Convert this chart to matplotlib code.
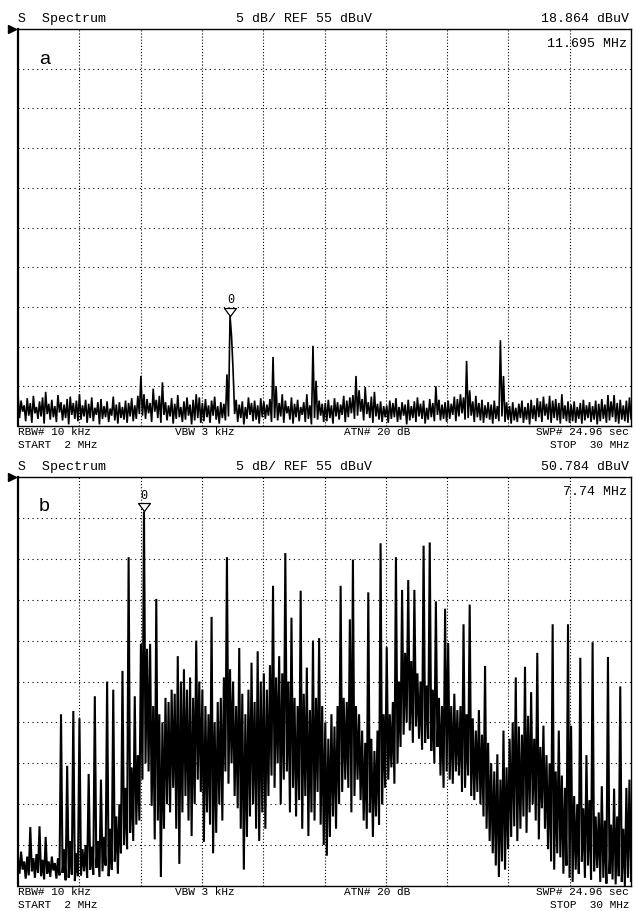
import numpy as np
import matplotlib
matplotlib.use("Agg")
import matplotlib.pyplot as plt
from matplotlib import transforms

# ---------------- instrument settings ----------------
F_START, F_STOP = 2.0, 30.0          # MHz
REF_LEVEL, DB_PER_DIV, N_DIV = 55.0, 5.0, 10

# ---------------- panel a trace (dBuV), peak / pit per column ----------------
hi_a = [9.0, 8.2, 7.6, 8.5, 7.9, 8.8, 7.4, 8.1, 8.6, 9.3, 7.8, 8.3, 7.5, 8.9, 8.0, 7.7, 8.4, 8.7, 7.9, 8.2,
        9.0, 7.6, 8.3, 7.8, 8.6, 7.3, 8.0, 8.4, 7.5, 8.1, 7.2, 8.7, 7.7, 8.0, 7.4, 8.2, 7.9, 8.5, 7.6, 8.8,
        11.3, 9.0, 8.4, 7.9, 9.7, 8.3, 8.8, 10.5, 8.0, 7.6, 8.5, 7.8, 8.9, 7.4, 8.1, 8.6, 7.7, 8.3, 9.0, 8.6,
        7.9, 8.4, 7.6, 8.2, 8.7, 7.5, 8.0, 7.8, 11.5, 18.864, 12.0, 8.3, 7.7, 8.1, 7.4, 8.6, 7.9, 8.2, 7.6, 8.5,
        8.1, 7.7, 8.4, 13.7, 10.0, 7.9, 9.0, 8.2, 7.5, 8.6, 7.8, 8.3, 7.4, 8.0, 9.0, 7.6, 15.1, 10.7, 8.2, 7.8,
        7.9, 8.3, 7.6, 8.5, 8.0, 7.7, 8.8, 8.2, 8.6, 8.9, 11.3, 9.5, 8.4, 9.9, 8.0, 8.7, 9.3, 7.8, 8.1, 7.5,
        7.6, 8.2, 7.9, 8.5, 7.4, 8.0, 7.7, 8.3, 7.5, 8.1, 8.6, 7.8, 8.2, 7.3, 8.4, 7.9, 10.0, 8.3, 7.7, 8.0,
        8.2, 7.8, 8.7, 8.4, 9.0, 8.6, 13.2, 9.5, 8.1, 8.8, 7.9, 8.3, 7.6, 8.0, 7.7, 8.2, 7.5, 15.8, 11.3, 8.0,
        7.5, 8.0, 7.3, 7.8, 8.2, 7.4, 7.9, 8.3, 7.6, 8.5, 8.1, 8.7, 7.8, 8.8, 8.2, 8.4, 7.9, 9.0, 7.6, 8.1,
        7.7, 8.1, 7.4, 7.9, 8.3, 7.6, 8.0, 7.5, 8.2, 7.8, 8.4, 7.7, 8.9, 8.1, 8.9, 7.9, 8.3, 7.6, 8.2, 8.6]
lo_a = [6.0, 6.8, 5.6, 6.3, 5.4, 6.6, 5.9, 6.2, 5.3, 6.5, 5.8, 6.1, 5.5, 6.7, 5.7, 6.0, 5.2, 6.4, 5.9, 5.6,
        5.8, 6.2, 5.4, 6.0, 5.6, 6.4, 5.2, 5.9, 6.1, 5.5, 6.3, 5.7, 5.3, 6.0, 5.8, 5.4, 6.2, 5.6, 5.9, 6.5,
        6.3, 5.9, 6.6, 5.5, 6.8, 6.0, 5.4, 6.4, 5.7, 6.2, 5.3, 5.9, 6.1, 5.5, 5.8, 6.3, 5.2, 5.7, 6.0, 5.4,
        5.6, 6.1, 5.4, 6.3, 5.8, 5.3, 6.0, 5.7, 6.2, 16.3, 6.5, 5.5, 6.0, 5.2, 5.9, 6.4, 5.6, 5.8, 5.3, 6.1,
        5.9, 6.3, 5.5, 6.0, 5.7, 6.2, 5.4, 6.6, 5.8, 5.3, 6.1, 5.6, 6.4, 5.5, 5.9, 5.2, 6.0, 5.8, 6.3, 5.5,
        5.6, 6.0, 5.3, 6.2, 5.8, 6.4, 5.5, 6.1, 6.6, 5.9, 6.3, 6.8, 5.7, 6.5, 6.0, 5.4, 6.2, 5.8, 5.5, 6.1,
        5.4, 5.9, 6.1, 5.5, 5.8, 6.3, 5.2, 5.7, 6.0, 5.5, 6.2, 5.9, 5.3, 5.8, 6.1, 5.6, 6.4, 5.7, 5.9, 5.5,
        5.9, 6.4, 5.6, 6.2, 6.6, 5.8, 6.0, 6.3, 5.5, 6.1, 5.7, 5.4, 6.0, 5.8, 5.3, 5.9, 5.6, 6.2, 5.5, 5.8,
        5.3, 5.7, 5.5, 6.0, 5.4, 5.8, 5.2, 5.9, 5.6, 6.1, 5.5, 6.3, 5.8, 5.4, 6.0, 5.7, 5.3, 5.9, 5.6, 5.4,
        5.6, 5.4, 5.9, 5.3, 5.7, 6.0, 5.5, 5.8, 5.2, 5.6, 5.9, 5.4, 5.7, 6.1, 5.5, 5.3, 5.8, 5.6, 5.4, 5.9]
marker_a = (11.695, 18.864)

# ---------------- panel b trace (dBuV), peak / pit per column ----------------
hi_b = [8.5, 9.2, 8.0, 8.6, 12.2, 8.4, 8.9, 12.3, 8.2, 11.0, 8.0, 8.6, 7.8, 8.4, 26.0, 9.5, 19.7, 10.5, 26.4, 9.0,
        25.5, 9.5, 10.0, 18.7, 9.8, 28.2, 10.5, 18.0, 11.0, 30.0, 12.0, 29.0, 13.5, 15.0, 31.3, 17.0, 45.2, 19.5, 28.2, 21.0,
        34.6, 50.784, 34.0, 34.6, 27.0, 40.1, 26.0, 25.0, 28.0, 27.5, 29.0, 28.5, 33.1, 30.0, 31.5, 29.0, 30.5, 28.0, 35.0, 30.0,
        29.0, 27.0, 26.0, 37.9, 25.0, 27.5, 28.0, 30.5, 45.2, 31.5, 30.0, 27.0, 34.1, 28.5, 26.0, 29.0, 32.3, 27.5, 33.7, 30.0,
        31.0, 29.0, 32.0, 41.7, 30.5, 33.1, 31.0, 45.7, 30.0, 37.8, 28.0, 27.0, 41.1, 28.5, 31.7, 26.5, 35.0, 28.0, 35.3, 27.0,
        25.0, 23.0, 26.0, 24.5, 27.0, 41.7, 28.0, 27.5, 37.6, 44.9, 27.0, 26.0, 24.0, 22.5, 40.9, 23.0, 21.5, 24.0, 46.9, 26.0,
        34.2, 26.0, 27.5, 45.2, 30.0, 41.2, 33.5, 42.4, 32.5, 41.2, 31.0, 30.0, 46.6, 29.5, 47.0, 29.0, 39.8, 28.0, 27.0, 38.9,
        34.7, 27.0, 28.5, 26.5, 27.0, 37.0, 26.0, 39.4, 25.5, 24.0, 26.5, 23.5, 31.9, 22.5, 20.0, 19.0, 21.1, 18.0, 24.0, 19.5,
        23.0, 25.0, 30.5, 24.5, 23.5, 31.8, 25.8, 28.7, 23.0, 33.5, 22.0, 24.6, 21.0, 20.0, 37.0, 19.0, 24.0, 18.5, 17.0, 37.0,
        24.6, 16.0, 15.0, 32.9, 14.5, 21.0, 15.5, 34.8, 13.5, 14.0, 17.2, 13.0, 33.0, 12.5, 16.9, 13.5, 29.4, 12.0, 17.0, 18.0]
lo_b = [6.5, 7.0, 5.9, 6.3, 6.8, 6.0, 6.6, 6.2, 5.8, 6.5, 6.1, 6.9, 5.9, 6.3, 6.6, 5.7, 6.0, 6.4, 5.6, 6.2,
        6.3, 6.8, 6.0, 7.0, 6.4, 7.2, 6.1, 6.8, 7.5, 6.2, 7.0, 8.0, 6.5, 9.0, 10.0, 9.5, 11.5, 10.5, 12.5, 13.0,
        18.0, 20.0, 19.0, 14.8, 10.7, 13.0, 6.1, 12.0, 15.0, 14.0, 17.0, 12.0, 7.7, 14.0, 16.0, 13.0, 11.1, 15.0, 18.0, 16.5,
        10.4, 14.0, 12.5, 9.0, 11.5, 15.0, 13.0, 19.0, 17.5, 20.0, 16.0, 14.5, 12.0, 7.0, 11.0, 13.5, 15.0, 12.0, 10.5, 14.0,
        12.0, 16.0, 18.5, 17.0, 20.0, 15.0, 18.0, 19.0, 14.0, 17.0, 13.5, 15.5, 12.0, 16.0, 11.1, 14.0, 13.0, 16.5, 12.5, 10.0,
        8.7, 11.0, 13.5, 12.0, 15.0, 16.5, 18.0, 17.0, 14.0, 16.0, 18.0, 15.5, 13.0, 12.0, 14.0, 11.0, 13.5, 12.5, 15.0, 17.0,
        18.0, 19.5, 17.5, 20.0, 22.0, 23.5, 25.0, 24.0, 22.5, 24.5, 23.0, 21.7, 22.5, 23.0, 21.5, 20.0, 22.0, 18.5, 17.0, 19.0,
        18.0, 17.5, 19.0, 18.5, 16.5, 17.0, 18.5, 16.0, 15.5, 16.5, 15.0, 13.5, 12.0, 10.5, 9.0, 7.5, 6.1, 8.0, 7.0, 9.5,
        11.0, 12.3, 10.5, 12.0, 13.5, 11.5, 14.0, 15.0, 13.0, 10.7, 14.5, 12.0, 9.5, 8.0, 7.0, 9.0, 8.5, 6.5, 7.5, 6.0,
        5.5, 7.0, 6.5, 8.0, 6.0, 7.5, 5.8, 6.8, 7.2, 5.5, 6.0, 5.3, 6.5, 5.8, 5.2, 6.2, 5.5, 5.0, 6.0, 5.6]
marker_b = (7.74, 50.784)

# ---------------- annotation texts ----------------
hdr_left = "S  Spectrum"
hdr_mid = "5 dB/ REF 55 dBuV"
hdr_right_a = "18.864 dBuV"
hdr_right_b = "50.784 dBuV"
mkr_freq_a = "11.695 MHz"
mkr_freq_b = "7.74 MHz"
foot_rbw = "RBW# 10 kHz"
foot_start = "START  2 MHz"
foot_vbw = "VBW 3 kHz"
foot_atn = "ATN# 20 dB"
foot_swp = "SWP# 24.96 sec"
foot_stop = "STOP  30 MHz"
marker_num = "0"

# ---------------- figure ----------------
W, H = 634, 912
fig = plt.figure(figsize=(W / 100, H / 100), dpi=100)
fig.patch.set_facecolor("white")
MONO = ["Liberation Mono", "DejaVu Sans Mono"]


def px_axes(left, top, right, bottom):
    return fig.add_axes([left / W, 1 - bottom / H, (right - left) / W, (bottom - top) / H])


def ftext(x, y, s, ha="left", size=9.5, family=MONO, **kw):
    fig.text(x / W, 1 - y / H, s, ha=ha, va="center", fontsize=size, family=family, color="black", **kw)


def draw_panel(ax, hi, lo, marker, label, top, bottom, hdr_right, mkr_freq, lw):
    vals = np.empty(2 * len(hi))
    vals[0::2] = hi
    vals[1::2] = lo
    freqs = np.linspace(F_START, F_STOP, len(vals))
    ax.set_xlim(F_START, F_STOP)
    ax.set_ylim(REF_LEVEL - N_DIV * DB_PER_DIV, REF_LEVEL)
    ax.set_xticks(np.linspace(F_START, F_STOP, N_DIV + 1)[1:-1])
    ax.set_yticks(np.linspace(REF_LEVEL - N_DIV * DB_PER_DIV, REF_LEVEL, N_DIV + 1)[1:-1])
    ax.tick_params(length=0, labelbottom=False, labelleft=False)
    ax.xaxis.grid(True, linestyle=(0, (1, 1.8)), color="black", lw=0.8)
    ax.yaxis.grid(True, linestyle=(0, (1, 3.2)), color="black", lw=0.8)
    ax.set_axisbelow(True)
    for side, sp in ax.spines.items():
        sp.set_color("black")
        sp.set_linewidth(1.6 if side == "left" else 1.0)
    ax.plot(freqs, vals, color="black", lw=lw, solid_joinstyle="miter")
    # marker: open down triangle sitting on the peak, with the marker number above
    tri = [(-6, 4), (6, 4), (0, -4), (-6, 4)]
    off = transforms.offset_copy(ax.transData, fig=fig, x=0, y=3.0, units="points")
    ax.plot([marker[0]], [marker[1]], marker=tri, ms=8.6, mfc="white", mec="black",
            mew=0.9, transform=off, clip_on=False, zorder=5)
    off2 = transforms.offset_copy(ax.transData, fig=fig, x=0, y=12.0, units="points")
    ax.text(marker[0], marker[1], marker_num, transform=off2, ha="center", va="center",
            fontsize=8.5, family=MONO, zorder=6)
    ax.text(0.043, 0.925 if label == "a" else 0.93, label, transform=ax.transAxes, ha="center",
            va="center", fontsize=14, family=["Liberation Sans", "DejaVu Sans"])
    # left arrow indicator
    ax.plot([-0.009], [1.0], marker=">", ms=6, color="black", transform=ax.transAxes, clip_on=False)
    # header and footer texts
    ftext(18, top - 11, hdr_left)
    ftext(304, top - 11, hdr_mid, ha="center")
    ftext(629, top - 11, hdr_right, ha="right")
    ftext(627, top + 14, mkr_freq, ha="right")
    fs = 8.0
    ftext(18, bottom + 5.5, foot_rbw, size=fs)
    ftext(18, bottom + 18.0, foot_start, size=fs)
    ftext(205, bottom + 5.5, foot_vbw, ha="center", size=fs)
    ftext(377, bottom + 5.5, foot_atn, ha="center", size=fs)
    ftext(629, bottom + 5.5, foot_swp, ha="right", size=fs)
    ftext(629, bottom + 18.0, foot_stop, ha="right", size=fs)


ax_a = px_axes(18, 30, 631, 427)
draw_panel(ax_a, hi_a, lo_a, marker_a, "a", 30, 427, hdr_right_a, mkr_freq_a, 1.2)
ax_b = px_axes(18, 478, 631, 887)
draw_panel(ax_b, hi_b, lo_b, marker_b, "b", 478, 887, hdr_right_b, mkr_freq_b, 1.5)

fig.savefig("out.png", dpi=100, facecolor="white")
